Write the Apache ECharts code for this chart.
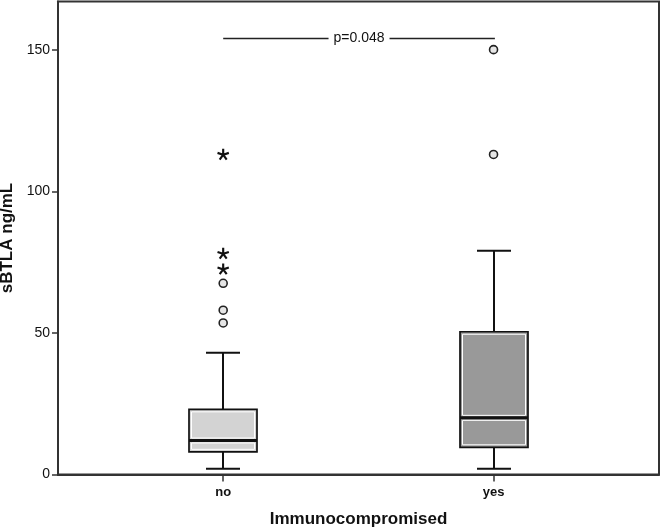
<!DOCTYPE html>
<html>
<head>
<meta charset="utf-8">
<title>sBTLA by immune status</title>
<script src="https://cdn.jsdelivr.net/npm/echarts@6/dist/echarts.min.js"></script>
<style>
  html, body { margin: 0; padding: 0; background: #fff; }
  #chart { width: 660px; height: 528px; }
</style>
</head>
<body>
<div id="chart"></div>
<script>
// groups on the x axis
var categories = ['no', 'yes'];
// [lower whisker, Q1, median, Q3, upper whisker] per group
var boxStats = [
  [2, 8, 12, 23, 43],
  [2, 9.6, 20, 50.4, 79]
];
// outliers (circles) and extremes (stars): [group index, value]
var outliers = [[0, 53.5], [0, 58], [0, 67.5], [1, 113], [1, 150]];
var extremes = [[0, 72.5], [0, 78], [0, 113]];
var yTicks = [0, 50, 100, 150];
var pText = 'p=0.048';
var pLevel = 154;

var chart = echarts.init(document.getElementById('chart'));

// SPSS style asterisk, five spokes
function starPath() {
  var parts = [];
  var L = 10, w = 1.8;
  for (var i = 0; i < 5; i++) {
    var a = (-90 + i * 72) * Math.PI / 180;
    var c = Math.cos(a), s = Math.sin(a);
    var px = -s * w, py = c * w;
    var bx = -c * w * 0.6, by = -s * w * 0.6;
    var pts = [[bx + px, by + py], [L * c + px, L * s + py], [L * c - px, L * s - py], [bx - px, by - py]];
    parts.push('M' + pts.map(function (p) { return p[0].toFixed(2) + ' ' + p[1].toFixed(2); }).join(' L') + ' Z');
  }
  return 'path://' + parts.join(' ');
}

var boxFills = ['#d3d3d3', '#999999'];
var ink = '#111';

var option = {
  animation: false,
  textStyle: { fontFamily: 'Liberation Sans, Arial, sans-serif' },
  grid: {
    left: 58, right: 1, top: 1.5, bottom: 53.5,
    containLabel: false, outerBoundsMode: 'none',
    show: true, borderColor: '#333', borderWidth: 2
  },
  xAxis: {
    type: 'value',
    min: -0.611,
    max: 1.612,
    name: 'Immunocompromised',
    nameLocation: 'middle',
    nameGap: 36,
    nameTextStyle: { fontSize: 17, fontWeight: 'bold', color: ink },
    axisLine: { show: true, onZero: false, lineStyle: { color: '#333', width: 2 } },
    axisTick: { show: true, customValues: [0, 1], length: 7, lineStyle: { color: '#333', width: 1.5 } },
    axisLabel: {
      customValues: [0, 1],
      margin: 11,
      fontSize: 13,
      fontWeight: 'bold',
      color: ink,
      formatter: function (v) { return categories[Math.round(v)]; }
    },
    splitLine: { show: false }
  },
  yAxis: {
    type: 'value',
    min: 0,
    max: 167,
    interval: 50,
    name: 'sBTLA ng/mL',
    nameLocation: 'middle',
    nameGap: 40,
    nameTextStyle: { fontSize: 17, fontWeight: 'bold', color: ink },
    axisLine: { show: true, onZero: false, lineStyle: { color: '#333', width: 2 } },
    axisTick: { show: true, customValues: yTicks, length: 6, lineStyle: { color: '#333', width: 1.5 } },
    axisLabel: { customValues: yTicks, margin: 8, fontSize: 14, color: ink },
    splitLine: { show: false }
  },
  series: [
    {
      type: 'custom',
      data: boxStats.map(function (s, i) { return [i].concat(s); }),
      encode: { x: 0, y: [1, 2, 3, 4, 5] },
      renderItem: function (params, api) {
        var x = api.value(0);
        var p = [1, 2, 3, 4, 5].map(function (d) { return api.coord([x, api.value(d)]); });
        var cx = Math.round(p[0][0]);
        var lo = p[0][1], q1 = p[1][1], md = p[2][1], q3 = p[3][1], hi = p[4][1];
        var bw = 68, cw = 34;
        var fill = boxFills[params.dataIndex];
        var blk = { stroke: ink, lineWidth: 2 };
        var white = { fill: 'none', stroke: '#fff', lineWidth: 1 };
        return {
          type: 'group',
          children: [
            { type: 'line', shape: { x1: cx, y1: lo, x2: cx, y2: q1 }, style: blk },
            { type: 'line', shape: { x1: cx, y1: q3, x2: cx, y2: hi }, style: blk },
            { type: 'line', shape: { x1: cx - cw / 2, y1: lo, x2: cx + cw / 2, y2: lo }, style: blk },
            { type: 'line', shape: { x1: cx - cw / 2, y1: hi, x2: cx + cw / 2, y2: hi }, style: blk },
            { type: 'rect', shape: { x: cx - bw / 2, y: q3, width: bw, height: q1 - q3 }, style: { fill: fill, stroke: ink, lineWidth: 1.7 } },
            { type: 'rect', shape: { x: cx - bw / 2 + 2.5, y: q3 + 2.5, width: bw - 5, height: md - q3 - 5 }, style: white },
            { type: 'rect', shape: { x: cx - bw / 2 + 2.5, y: md + 2.5, width: bw - 5, height: q1 - md - 5 }, style: white },
            { type: 'line', shape: { x1: cx - bw / 2, y1: md, x2: cx + bw / 2, y2: md }, style: { stroke: ink, lineWidth: 3 } }
          ]
        };
      }
    },
    {
      type: 'scatter',
      data: outliers,
      symbol: 'circle',
      symbolSize: 8,
      itemStyle: { color: '#e6e6e6', borderColor: '#222', borderWidth: 1.6, opacity: 1 },
      markLine: {
        silent: true,
        symbol: 'none',
        lineStyle: { color: '#222', width: 1.3, type: 'solid' },
        label: {
          show: true,
          position: 'middle',
          distance: -8,
          formatter: pText,
          fontSize: 14,
          color: ink,
          backgroundColor: '#fff',
          padding: [1, 5]
        },
        data: [[{ coord: [0, pLevel] }, { coord: [1.005, pLevel] }]]
      }
    },
    {
      type: 'scatter',
      data: extremes,
      symbol: starPath(),
      symbolKeepAspect: true,
      symbolSize: 12,
      itemStyle: { color: '#111', opacity: 1 }
    }
  ]
};
chart.setOption(option);
</script>
</body>
</html>
